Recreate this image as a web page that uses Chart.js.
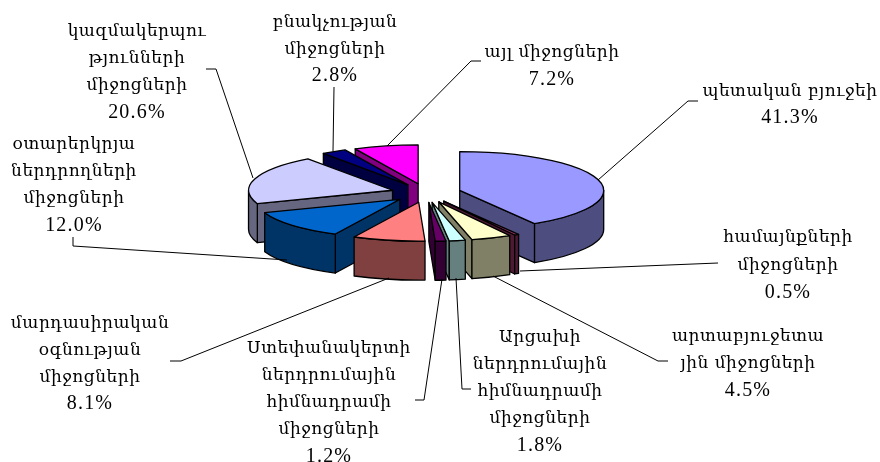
<!DOCTYPE html>
<html>
<head>
<meta charset="utf-8">
<style>
  body { margin: 0; background: #fff; }
</style>
<script src="https://cdn.jsdelivr.net/npm/chart.js@4"></script>
</head>
<body>
<canvas id="chart-area" width="880" height="462"></canvas>
<script>
const categories = [
  ["պետական բյուջեի"],
  ["համայնքների", "միջոցների"],
  ["արտաբյուջետա", "յին միջոցների"],
  ["Արցախի", "ներդրումային", "հիմնադրամի", "միջոցների"],
  ["Ստեփանակերտի", "ներդրումային", "հիմնադրամի", "միջոցների"],
  ["մարդասիրական", "օգնության", "միջոցների"],
  ["օտարերկրյա", "ներդրողների", "միջոցների"],
  ["կազմակերպու", "թյունների", "միջոցների"],
  ["բնակչության", "միջոցների"],
  ["այլ միջոցների"],
];
const values = [41.3, 0.5, 4.5, 1.8, 1.2, 8.1, 12.0, 20.6, 2.8, 7.2];

const topColors = ["#9999ff", "#993366", "#ffffcc", "#ccffff", "#660066", "#ff8080", "#0066cc", "#ccccff", "#000080", "#ff00ff"];
const sideColors = ["#4d4d80", "#4d1a33", "#808066", "#668080", "#330033", "#804040", "#003366", "#666680", "#000040", "#800080"];

// label block: centre x, middle of first line, line step
const labelBoxes = [
  [790, 92, 26],
  [788, 238, 27.5],
  [748, 337, 27],
  [540, 338, 27],
  [329, 349, 27],
  [90, 324, 26.7],
  [74, 145, 27],
  [137, 32, 27],
  [335, 23, 26.5],
  [552, 53, 27],
];
const leaders = [
  [[698, 101], [688, 101], [598, 180]],
  [[718, 263], [520, 271]],
  [[668, 361], [658, 361], [493, 276]],
  [[471, 389], [462, 389], [456, 278]],
  [[415, 400], [424, 400], [442, 279]],
  [[170, 361], [181, 361], [389, 278]],
  [[73, 237], [73, 246], [287, 260]],
  [[206, 69], [216, 69], [253, 178]],
  [[334, 87], [333, 151]],
  [[481, 61], [471, 61], [387, 146]],
];

const tilt = 0.27;
const depth = 39;
const explode = 35;

function drawSlice(ctx, arc, i) {
  const r = arc.outerRadius;
  const a0 = arc.startAngle;
  const a1 = arc.endAngle;
  const mid = (a0 + a1) / 2;
  const ax = arc.x + Math.cos(mid) * explode;
  const ay = arc.y + Math.sin(mid) * explode * tilt;
  const pt = (a) => [ax + Math.cos(a) * r, ay + Math.sin(a) * r * tilt];

  ctx.save();
  ctx.lineWidth = 1.3;
  ctx.lineJoin = "round";
  ctx.strokeStyle = "#000";
  ctx.fillStyle = sideColors[i];

  // cut faces that look toward the viewer
  const faces = [];
  if (Math.cos(a0) < -0.001) faces.push(a0);
  if (Math.cos(a1) > 0.001) faces.push(a1);
  faces.forEach((a) => {
    const p = pt(a);
    ctx.beginPath();
    ctx.moveTo(ax, ay);
    ctx.lineTo(p[0], p[1]);
    ctx.lineTo(p[0], p[1] + depth);
    ctx.lineTo(ax, ay + depth);
    ctx.closePath();
    ctx.fill();
    ctx.stroke();
  });

  // outer wall, front half of the ellipse only
  const w0 = Math.max(a0, 0);
  const w1 = Math.min(a1, Math.PI);
  if (w1 > w0) {
    ctx.beginPath();
    ctx.ellipse(ax, ay, r, r * tilt, 0, w0, w1);
    ctx.ellipse(ax, ay + depth, r, r * tilt, 0, w1, w0, true);
    ctx.closePath();
    ctx.fill();
    ctx.stroke();
  }

  // top face comes from the library's own arc, squashed
  ctx.save();
  ctx.translate(ax, ay);
  ctx.scale(1, tilt);
  ctx.translate(-arc.x, -arc.y);
  arc.draw(ctx);
  ctx.restore();

  ctx.beginPath();
  ctx.moveTo(ax, ay);
  ctx.ellipse(ax, ay, r, r * tilt, 0, a0, a1);
  ctx.closePath();
  ctx.stroke();
  ctx.restore();
}

const pie3d = {
  id: "pie3d",
  beforeDatasetDraw(chart, args) {
    const arcs = args.meta.data.map((arc, i) => ({ arc, i }));
    const far = (o) => Math.sin((o.arc.startAngle + o.arc.endAngle) / 2);
    arcs.sort((a, b) => far(a) - far(b));
    arcs.forEach((o) => drawSlice(chart.ctx, o.arc, o.i));
    return false;
  },
  afterDraw(chart) {
    const ctx = chart.ctx;
    ctx.save();
    ctx.strokeStyle = "#000";
    ctx.lineWidth = 1;
    leaders.forEach((line) => {
      ctx.beginPath();
      line.forEach((p, k) => (k ? ctx.lineTo(p[0], p[1]) : ctx.moveTo(p[0], p[1])));
      ctx.stroke();
    });
    ctx.fillStyle = "#000";
    ctx.textAlign = "center";
    ctx.textBaseline = "middle";
    ctx.font = '17px "DejaVu Serif", "Liberation Serif", serif';
    ctx.letterSpacing = "0.5px";
    categories.forEach((lines, i) => {
      const box = labelBoxes[i];
      lines.forEach((txt, k) => ctx.fillText(txt, box[0], box[1] + k * box[2]));
    });
    ctx.font = '20px "Liberation Serif", serif';
    ctx.letterSpacing = "1.2px";
    values.forEach((v, i) => {
      const box = labelBoxes[i];
      ctx.fillText(v.toFixed(1) + "%", box[0], box[1] + categories[i].length * box[2]);
    });
    ctx.restore();
  },
};

let config = {
  type: "pie",
  data: {
    labels: categories,
    datasets: [
      {
        data: values,
        backgroundColor: topColors,
        borderWidth: 0,
      },
    ],
  },
  options: {
    responsive: false,
    animation: false,
    radius: 144,
    layout: { padding: { right: 28, bottom: 76 } },
    plugins: {
      legend: { display: false },
      tooltip: { enabled: false },
    },
  },
  plugins: [pie3d],
};

window.onload = function () {
  let ctx = document.getElementById("chart-area").getContext("2d");
  window.myPie = new Chart(ctx, config);
};
</script>
</body>
</html>
